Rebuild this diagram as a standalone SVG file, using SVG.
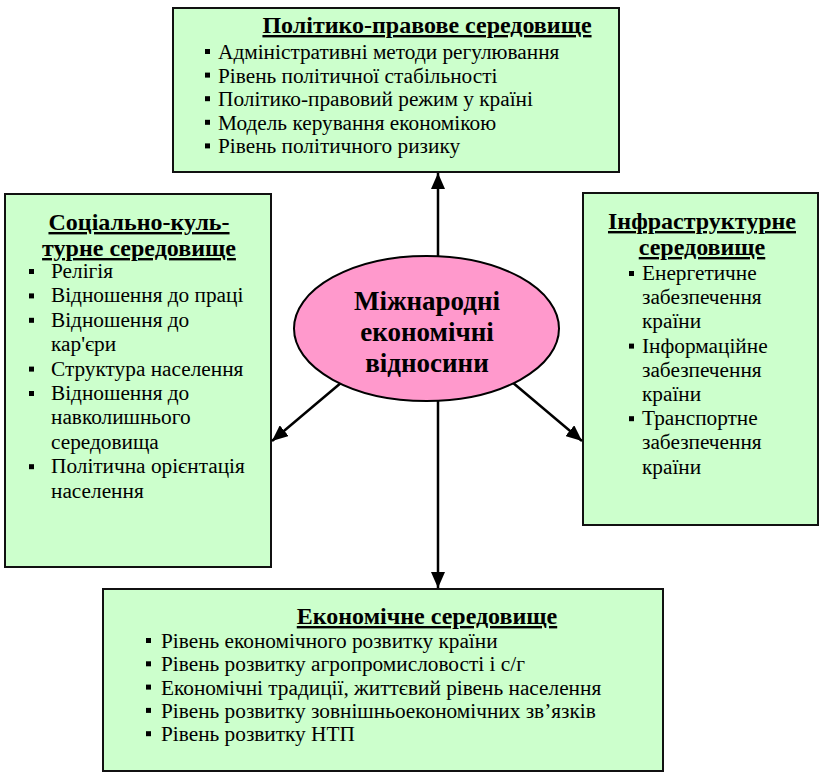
<svg xmlns="http://www.w3.org/2000/svg" width="821" height="773" viewBox="0 0 821 773">
<style>
.box{fill:#CCFFCC;stroke:#111;stroke-width:2}
text{font-family:'Liberation Serif','Times New Roman','DejaVu Serif',serif;fill:#000}
.ttl{font-weight:bold;font-size:24px;text-anchor:middle;text-decoration:underline}
.it{font-size:21.3px}
.ctr{font-weight:bold;font-size:27px;text-anchor:middle}
.con{stroke:#000;stroke-width:2.5;fill:none;marker-end:url(#ah)}
</style>
<defs>
<marker id="ah" markerUnits="userSpaceOnUse" markerWidth="16" markerHeight="14" refX="16" refY="7" orient="auto">
<path d="M0,0 L16,7 L0,14 z" fill="#000"/>
</marker>
<rect id="b" width="5" height="5"/>
</defs>

<g id="top">
<rect class="box" x="173" y="8" width="446" height="164"/>
<text class="ttl" x="427" y="33">Політико-правове середовище</text>
<use href="#b" x="205" y="49"/><text class="it" x="218" y="59">Адміністративні методи регулювання</text>
<use href="#b" x="205" y="72.6"/><text class="it" x="218" y="82.6">Рівень політичної стабільності</text>
<use href="#b" x="205" y="96.2"/><text class="it" x="218" y="106.2">Політико-правовий режим у країні</text>
<use href="#b" x="205" y="119.8"/><text class="it" x="218" y="129.8">Модель керування економікою</text>
<use href="#b" x="205" y="143.4"/><text class="it" x="218" y="153.4">Рівень політичного ризику</text>
</g>

<g id="left">
<rect class="box" x="5" y="194" width="266" height="373"/>
<text class="ttl" x="139" y="230">Соціально-куль-</text>
<text class="ttl" x="139" y="256">турне середовище</text>
<use href="#b" x="29" y="269"/><text class="it" x="51" y="278">Релігія</text>
<use href="#b" x="29" y="293.4"/><text class="it" x="51" y="302.4">Відношення до праці</text>
<use href="#b" x="29" y="317.8"/><text class="it" x="51" y="326.8">Відношення до</text>
<text class="it" x="51" y="351.2">кар'єри</text>
<use href="#b" x="29" y="366.6"/><text class="it" x="51" y="375.6">Структура населення</text>
<use href="#b" x="29" y="391"/><text class="it" x="51" y="400">Відношення до</text>
<text class="it" x="51" y="424.4">навколишнього</text>
<text class="it" x="51" y="448.8">середовища</text>
<use href="#b" x="29" y="464.2"/><text class="it" x="51" y="473.2">Політична орієнтація</text>
<text class="it" x="51" y="497.6">населення</text>
</g>

<g id="right">
<rect class="box" x="583" y="193" width="235" height="332"/>
<text class="ttl" x="702" y="229">Інфраструктурне</text>
<text class="ttl" x="702" y="255">середовище</text>
<use href="#b" x="629" y="271"/><text class="it" x="642" y="280">Енергетичне</text>
<text class="it" x="642" y="304.2">забезпечення</text>
<text class="it" x="642" y="328.4">країни</text>
<use href="#b" x="629" y="343.6"/><text class="it" x="642" y="352.6">Інформаційне</text>
<text class="it" x="642" y="376.8">забезпечення</text>
<text class="it" x="642" y="401">країни</text>
<use href="#b" x="629" y="416.2"/><text class="it" x="642" y="425.2">Транспортне</text>
<text class="it" x="642" y="449.4">забезпечення</text>
<text class="it" x="642" y="473.6">країни</text>
</g>

<g id="bottom">
<rect class="box" x="103" y="589" width="560" height="182"/>
<text class="ttl" x="427" y="624">Економічне середовище</text>
<use href="#b" x="146" y="638"/><text class="it" x="161" y="648">Рівень економічного розвитку країни</text>
<use href="#b" x="146" y="661.3"/><text class="it" x="161" y="671.3">Рівень розвитку агропромисловості і с/г</text>
<use href="#b" x="146" y="684.6"/><text class="it" x="161" y="694.6">Економічні традиції, життєвий рівень населення</text>
<use href="#b" x="146" y="707.9"/><text class="it" x="161" y="717.9">Рівень розвитку зовнішньоекономічних зв’язків</text>
<use href="#b" x="146" y="731.2"/><text class="it" x="161" y="741.2">Рівень розвитку НТП</text>
</g>

<g id="connectors">
<line class="con" x1="438" y1="256" x2="438" y2="173"/>
<line class="con" x1="438" y1="401" x2="438" y2="588"/>
<line class="con" x1="342" y1="382" x2="272" y2="441"/>
<line class="con" x1="512" y1="382" x2="582" y2="441"/>
</g>

<g id="center">
<ellipse cx="426.5" cy="328.5" rx="132.5" ry="72.5" fill="#FF99CC" stroke="#000" stroke-width="2"/>
<text class="ctr" x="427" y="310">Міжнародні</text>
<text class="ctr" x="427" y="341">економічні</text>
<text class="ctr" x="427" y="372">відносини</text>
</g>
</svg>
